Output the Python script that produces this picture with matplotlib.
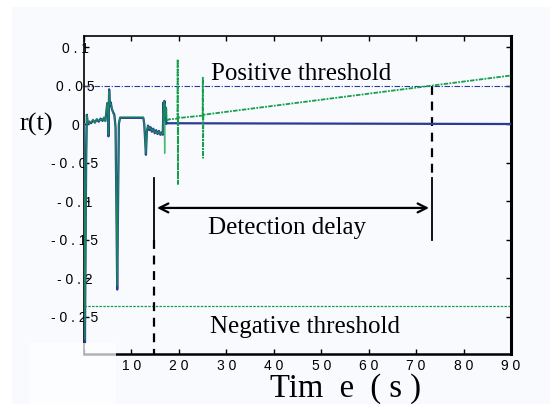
import matplotlib
matplotlib.use("Agg")
import matplotlib.pyplot as plt
from matplotlib.patches import Rectangle

# ---- data -------------------------------------------------------------
# residual r(t) of the nominal model (blue)
t_blue = [0.0, 0.2, 0.45, 0.6, 0.8, 1.1, 1.5, 1.9, 2.3, 2.7, 3.1, 3.5, 3.9, 4.2,
          4.5, 4.7, 4.9, 5.05, 5.15, 5.3, 5.45, 5.65, 5.85, 6.1, 6.4, 6.65, 6.85,
          7.0, 7.15, 7.35, 7.6, 12.5, 12.7, 13.05, 13.25, 13.5, 13.8, 14.0, 14.3,
          14.6, 14.9, 15.2, 15.5, 15.8, 16.1, 16.4, 16.6, 16.75, 16.85, 16.95,
          17.05, 17.15, 17.3, 17.5, 90.0]
r_blue = [0.0, -0.284, -0.05, 0.012, 0.0, 0.003, 0.001, 0.005, 0.002, 0.006,
          0.003, 0.007, 0.004, 0.008, 0.004, 0.015, 0.027, 0.02, -0.016, 0.045,
          0.024, 0.028, 0.02, 0.016, 0.012, -0.004, -0.12, -0.215, -0.12, 0.0,
          0.008, 0.008, 0.0, -0.04, -0.01, -0.002, -0.008, -0.004, -0.01, -0.006,
          -0.012, -0.008, -0.013, -0.009, -0.014, -0.011, -0.014, 0.028, 0.015,
          0.03, 0.005, 0.022, 0.0, 0.001, 0.0]

# residual of the faulty system (green), before and after the fault
t_green_early = [0.0, 0.2, 0.45, 0.6, 0.8, 1.1, 1.5, 1.9, 2.3, 2.7, 3.1, 3.5,
                 3.9, 4.2, 4.5, 4.7, 4.9, 5.05, 5.15, 5.3, 5.45, 5.65, 5.85, 6.1,
                 6.4, 6.65, 6.85, 7.0, 7.15, 7.35, 7.6, 12.5, 12.7, 13.05, 13.25,
                 13.5, 13.8, 14.0, 14.3, 14.6, 14.9, 15.2, 15.5, 15.8, 16.1, 16.4,
                 16.6, 16.8, 16.9, 17.0, 17.1, 17.25, 17.4, 17.5]
r_green_early = [0.0, -0.28, -0.05, 0.011, 0.001, 0.004, 0.002, 0.006, 0.001,
                 0.007, 0.004, 0.006, 0.005, 0.009, 0.003, 0.017, 0.028, 0.018,
                 -0.014, 0.043, 0.026, 0.026, 0.022, 0.014, 0.01, -0.006, -0.11,
                 -0.21, -0.11, 0.001, 0.009, 0.009, 0.001, -0.038, -0.008, -0.003,
                 -0.006, -0.005, -0.009, -0.007, -0.011, -0.009, -0.012, -0.01,
                 -0.013, -0.012, -0.013, 0.03, 0.012, -0.038, 0.026, 0.01, 0.02,
                 0.004]
t_green_late = [17.5, 17.8, 19.7, 19.75, 19.8, 19.85, 20.3, 25.0, 25.05, 25.1,
                25.15, 90.0]
r_green_late = [0.004, 0.006, 0.007, 0.084, -0.078, 0.009, 0.008, 0.011, 0.06,
                -0.044, 0.012, 0.063]

pos_threshold = 0.05
neg_threshold = -0.236
t_detect = 14.8      # fault occurrence
t_alarm = 73.3       # residual crosses the positive threshold
arrow_level = -0.109

x_ticks = [0, 10, 20, 30, 40, 50, 60, 70, 80, 90]
x_tick_labels = ["", "1 0", "2 0", "3 0", "4 0", "5 0", "6 0", "7 0", "8 0", "9 0"]
y_ticks = [0.1, 0.05, 0.0, -0.05, -0.1, -0.15, -0.2, -0.25]
y_tick_labels = ["0 . 1", "0 . 0 5", "0", "- 0 . 0 5", "- 0 . 1", "- 0 . 1 5",
                 "- 0 . 2", "- 0 . 2 5"]

# ---- figure -------------------------------------------------------------
W, H = 550, 404
bg = "#F8FAFD"
blue = "#2A3A96"
green = "#12A04C"

fig = plt.figure(figsize=(W / 100, H / 100), dpi=100, facecolor="white")
fig.add_artist(Rectangle((12 / W, 0), 1, 1 - 7 / H, transform=fig.transFigure,
                         facecolor=bg, edgecolor="none", zorder=-5))

ax = fig.add_axes([84 / W, 1 - 354 / H, 427 / W, 318 / H])
ax.set_facecolor(bg)
ax.set_xlim(0, 90)
ax.set_ylim(-0.2987, 0.1143)

serif = ["Liberation Serif", "DejaVu Serif"]
sans = ["Liberation Sans", "DejaVu Sans"]

# thresholds
ax.plot([0, 90], [pos_threshold] * 2, color=blue, lw=0.8,
        linestyle=(0, (5, 1.5, 1, 1.5)))
ax.plot([0, 90], [neg_threshold] * 2, color=green, lw=0.9,
        linestyle=(0, (2, 1)))

# residuals
ax.plot(t_blue, r_blue, color=blue, lw=1.6, zorder=3)
ax.plot(t_green_early, r_green_early, color=green, lw=1.0, alpha=0.75, zorder=4)
ax.plot(t_green_late, r_green_late, color=green, lw=1.3,
        linestyle=(0, (2.5, 0.7, 1, 0.7)), zorder=4)

# detection delay annotation
ax.plot([t_detect, t_detect], [-0.07, -0.151], color="black", lw=1.3)
ax.plot([t_alarm, t_alarm], [-0.07, -0.151], color="black", lw=1.3)
ax.plot([t_detect, t_detect], [-0.151, -0.2987], color="black", lw=1.6,
        linestyle=(0, (4, 3)))
ax.plot([t_alarm, t_alarm], [pos_threshold, -0.07], color="black", lw=1.6,
        linestyle=(0, (4, 3)))
ax.annotate("", xy=(t_detect, arrow_level), xytext=(t_alarm, arrow_level),
            arrowprops=dict(arrowstyle="<->", color="black", lw=1.6,
                            mutation_scale=16))

ax.text(26.7, 0.057, "Positive threshold", family=serif, fontsize=18,
        ha="left", va="baseline")
ax.text(26.1, -0.143, "Detection delay", family=serif, fontsize=18,
        ha="left", va="baseline")
ax.text(26.5, -0.2714, "Negative threshold", family=serif, fontsize=18,
        ha="left", va="baseline")

# axes styling
ax.set_xticks(x_ticks)
ax.set_xticklabels(x_tick_labels, family=sans, fontsize=10)
ax.set_yticks(y_ticks)
ax.set_yticklabels(y_tick_labels, family=sans, fontsize=10)
for lab in ax.get_yticklabels():
    lab.set_horizontalalignment("center")
ax.tick_params(axis="both", direction="in", length=3.5, width=1.0,
               top=True, right=True, colors="black")
ax.tick_params(axis="y", pad=6.5)
ax.tick_params(axis="x", pad=3.5)
for side, lw in (("left", 1.2), ("top", 1.2), ("bottom", 1.8), ("right", 2.2)):
    ax.spines[side].set_linewidth(lw)
    ax.spines[side].set_color("black")

fig.text(36.5 / W, 1 - 124 / H, "r(t)", family=serif, fontsize=19,
         ha="center", va="center")
fig.text(345 / W, 1 - 397 / H, "Tim  e  ( s )", family=serif, fontsize=23.5,
         ha="center", va="baseline")

# pale panel in the lower left corner
fig.add_artist(Rectangle((30 / W, 0), 86 / W, 61 / H, transform=fig.transFigure,
                         facecolor="white", edgecolor="none", alpha=0.7,
                         zorder=10))

fig.savefig("out.png", dpi=100, facecolor="white")
